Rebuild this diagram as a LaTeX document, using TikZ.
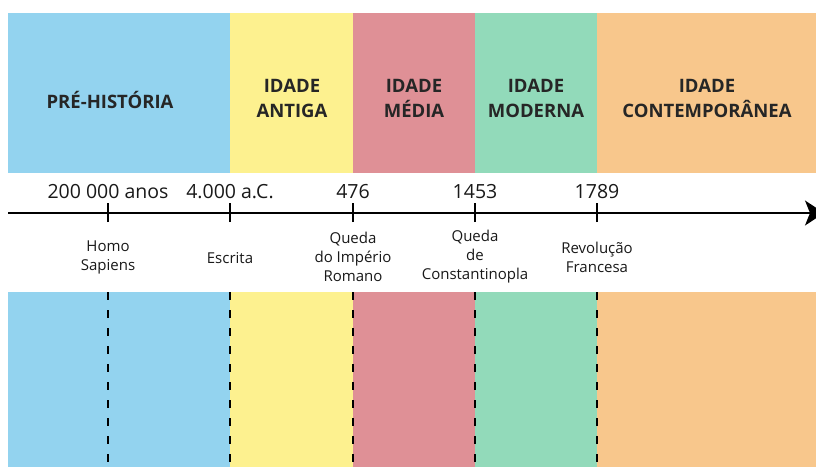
\documentclass[tikz,border=0pt]{standalone}
\usepackage{fontspec}
\setmainfont{Open Sans}
\usetikzlibrary{arrows.meta}
\definecolor{preblue}{HTML}{93D3EF}
\definecolor{antyellow}{HTML}{FDF18F}
\definecolor{medred}{HTML}{DF9096}
\definecolor{modgreen}{HTML}{92DABA}
\definecolor{conorange}{HTML}{F8C78C}

\begin{document}
\begin{tikzpicture}[x=1pt,y=-1pt,
	era/.style={font=\fontsize{18.5}{25}\selectfont\bfseries,align=center,text=black!85},
	year/.style={font=\fontsize{19.5}{22}\selectfont,text=black!90},
	event/.style={font=\fontsize{15}{19}\selectfont,align=center,text=black!90},
	marker/.style={line width=1.7pt},
	guide/.style={line width=1.4pt,dash pattern=on 8pt off 10pt}]
			\useasboundingbox [fill=white] (0,0) rectangle (816,467);
			\clip (0,0) rectangle (816,467);
			% bandas de cor
			\fill [preblue] (8,13) rectangle (230,173);
			\fill [antyellow] (230,13) rectangle (353,173);
			\fill [medred] (353,13) rectangle (475,173);
			\fill [modgreen] (475,13) rectangle (597,173);
			\fill [conorange] (597,13) rectangle (816,173);
			\fill [preblue] (8,292) rectangle (230,467);
			\fill [antyellow] (230,292) rectangle (353,467);
			\fill [medred] (353,292) rectangle (475,467);
			\fill [modgreen] (475,292) rectangle (597,467);
			\fill [conorange] (597,292) rectangle (816,467);
			\node [era] (pre) at (110,100) {PRÉ-HISTÓRIA};
			\node [era] (antiga) at (292,98) {IDADE\\ANTIGA};
			\node [era] (media) at (414,98) {IDADE\\MÉDIA};
			\node [era] (moderna) at (536,98) {IDADE\\MODERNA};
			\node [era] (contemp) at (707,98) {IDADE\\CONTEMPORÂNEA};
			% linha do tempo
			\coordinate (start) at (8,213);
			\coordinate (end) at (824,213);
			\draw [line width=1.7pt,-{Stealth[length=19pt,width=25pt,inset=5pt]}] (start)--(end);
			\coordinate (t1) at (108,213);
			\coordinate (t2) at (230,213);
			\coordinate (t3) at (353,213);
			\coordinate (t4) at (475,213);
			\coordinate (t5) at (597,213);
			\draw [marker] ([yshift=-9pt]t1)--([yshift=10pt]t1);
			\draw [marker] ([yshift=-9pt]t2)--([yshift=10pt]t2);
			\draw [marker] ([yshift=-9pt]t3)--([yshift=10pt]t3);
			\draw [marker] ([yshift=-9pt]t4)--([yshift=10pt]t4);
			\draw [marker] ([yshift=-9pt]t5)--([yshift=10pt]t5);
			\node [year] (y1) at (108,192) {200 000 anos};
			\node [year] (y2) at (230,192) {4.000 a.C.};
			\node [year] (y3) at (353,192) {476};
			\node [year] (y4) at (475,192) {1453};
			\node [year] (y5) at (597,192) {1789};
			\node [event] (e1) at (108,257) {Homo\\Sapiens};
			\node [event] (e2) at (230,258) {Escrita};
			\node [event] (e3) at (353,257) {Queda\\do Império\\Romano};
			\node [event] (e4) at (475,257) {Queda\\de\\Constantinopla};
			\node [event] (e5) at (597,257) {Revolução\\Francesa};
			% linhas tracejadas
			\coordinate (b1) at (108,292);
			\coordinate (b2) at (230,292);
			\coordinate (b3) at (353,292);
			\coordinate (b4) at (475,292);
			\coordinate (b5) at (597,292);
			\draw [guide] (b1)--(108,467);
			\draw [guide] (b2)--(230,467);
			\draw [guide] (b3)--(353,467);
			\draw [guide] (b4)--(475,467);
			\draw [guide] (b5)--(597,467);
\end{tikzpicture}
\end{document}
